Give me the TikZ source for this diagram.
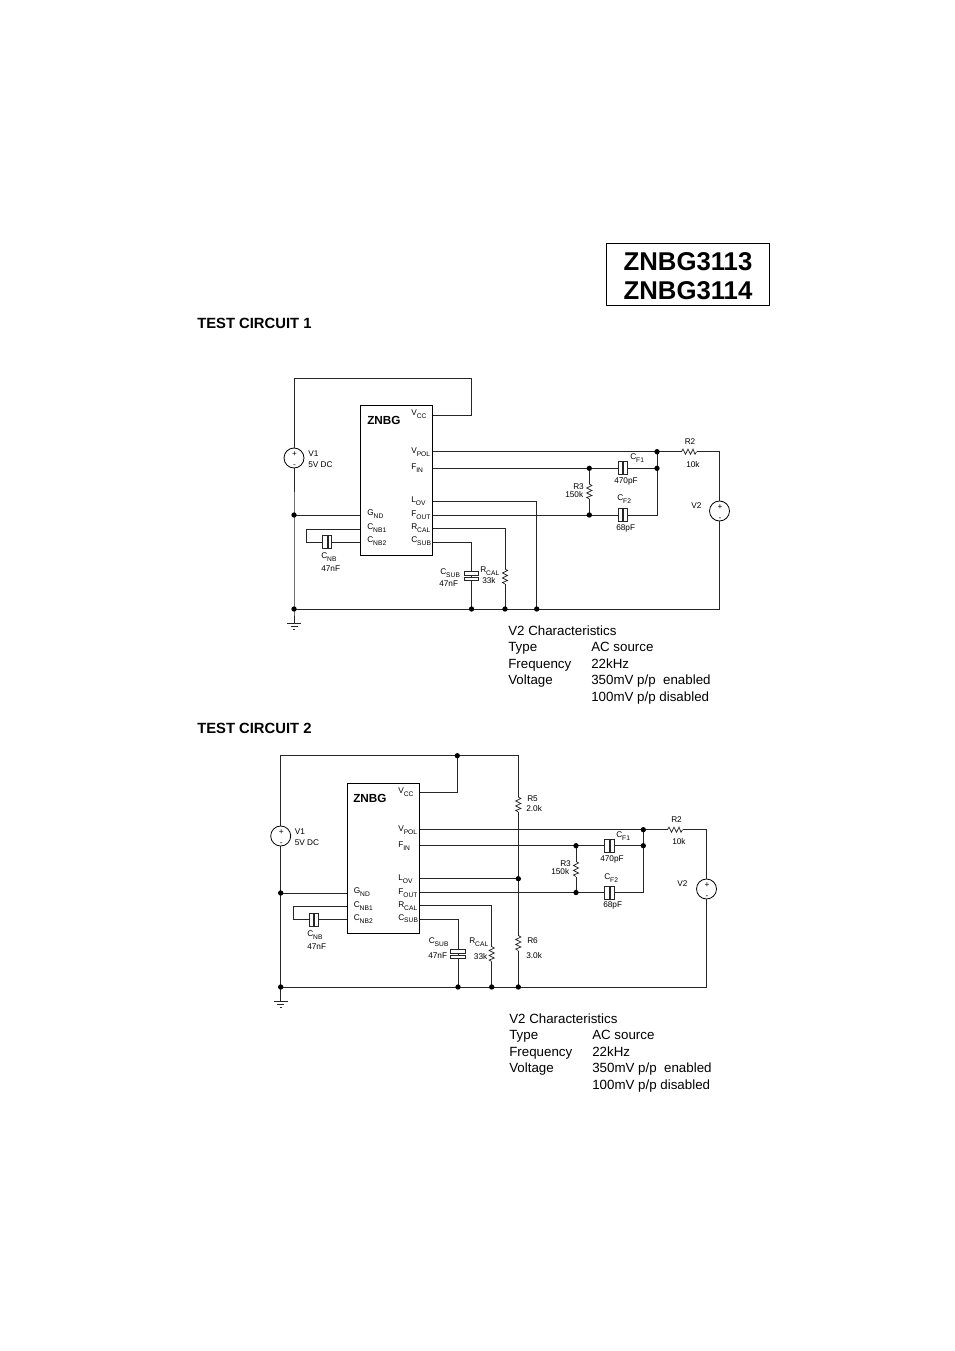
\documentclass[tikz,border=0pt]{standalone}
\usepackage{fontspec}
\setmainfont{Liberation Sans}
\newcounter{labc}
\newcommand{\sbs}[1]{\raisebox{-1.7pt}{\fontsize{5}{5}\selectfont #1}}
\tikzset{
  wire/.style={line width=0.65pt,draw=black!85,line join=miter},
  lab/.style={inner sep=0pt,anchor=base west,font=\fontsize{6.2}{7}\selectfont,yshift=-2.2pt},
  note/.style={inner sep=0pt,anchor=base west,font=\fontsize{10}{11}\selectfont,yshift=-3.4pt},
  head/.style={inner sep=0pt,anchor=base west,font=\bfseries\fontsize{11.1}{13}\selectfont,yshift=-3.9pt},
  chipbox/.style={draw=black,line width=0.75pt,fill=white,inner sep=0pt,minimum width=54pt,minimum height=112.5pt},
  srcbox/.style={circle,draw=black,line width=0.6pt,fill=white,inner sep=0pt,minimum size=15pt},
  plate/.style={draw=black!85,line width=0.6pt,fill=white},
  junction/.style={circle,fill=black,inner sep=0pt,minimum size=4pt},
  titlebox/.style={draw=black,line width=0.75pt,inner sep=0pt,minimum width=122.25pt,minimum height=46.5pt},
  titletext/.style={inner sep=0pt,align=center,font=\bfseries\fontsize{19.3}{22.2}\selectfont},
  pics/caph/.style={code={
    \draw[plate] (-5,-6.5) rectangle (-0.6,6.5);
    \draw[plate] (0.6,-6.5) rectangle (4.2,6.5);}},
  pics/capv/.style={code={
    \draw[plate] (-7.3,-5) rectangle (7.3,-0.7);
    \draw[plate] (-7.3,0.7) rectangle (7.3,4.2);}},
  pics/resv/.style={code={
    \fill[white] (-3,-7.5) rectangle (3,7.5);
    \draw[line width=0.55pt,draw=black!85] (0,-7.5)--(2.6,-6)--(-2.6,-3.5)--(2.6,-1)--(-2.6,1.5)--(2.6,4)--(-2.6,6)--(0,7.5);}},
  pics/resh/.style={code={
    \fill[white] (-7.5,-3) rectangle (7.5,3);
    \draw[line width=0.55pt,draw=black!85] (-7.5,0)--(-6,-2.6)--(-3.5,2.6)--(-1,-2.6)--(1.5,2.6)--(4,-2.6)--(6,2.6)--(7.5,0);}},
  pics/earth/.style={code={
    \draw[line width=0.6pt,draw=black!85] (-7,0)--(7,0) (-3.5,3)--(3.5,3) (-1,6.5)--(1,6.5);}},
}
\newcommand{\lab}[3]{\stepcounter{labc}\node[lab] (l\thelabc) at (#1,#2) {#3};}
\newcommand{\note}[3]{\stepcounter{labc}\node[note] (l\thelabc) at (#1,#2) {#3};}
\newcommand{\jn}[1]{\node[junction] (j-#1) at (#1) {};}
\begin{document}
\begin{tikzpicture}[x=0.75pt,y=-0.75pt]
\useasboundingbox (0,0) rectangle (954,1351);
\fill[white] (0,0) rectangle (954,1351);

% Title
\node[titlebox] (title) at (688,274.5) {};
\node[titletext] (titlet) at (688,276) {ZNBG3113\\ZNBG3114};
\node[head] (h1) at (197,323.5) {TEST CIRCUIT 1};
\node[head] (h2) at (197,728) {TEST CIRCUIT 2};

%%%%%%%%%%%%%%% CIRCUIT 1
\node[chipbox] (A) at (396.3,480.5) {};
\coordinate (a1) at (294,378.5);
\coordinate (a2) at (471.5,378.5);
\coordinate (a3) at (471.5,415);
\coordinate (avcc) at (432.3,415);
\coordinate (agt) at (294,515);
\coordinate (agb) at (294,609);
\coordinate (agnd) at (360.3,515);
\coordinate (an1) at (360.3,529);
\coordinate (an2) at (360.3,542);
\coordinate (al1) at (306.7,529);
\coordinate (al2) at (306.7,542);
\coordinate (apol) at (432.3,451.7);
\coordinate (ajt) at (657,451.7);
\coordinate (ar2e) at (719.5,451.7);
\coordinate (ar2m) at (689,451.7);
\coordinate (afin) at (432.3,468.3);
\coordinate (ar3t) at (589.3,468.3);
\coordinate (ajm) at (657,468.3);
\coordinate (aov) at (432.3,501.7);
\coordinate (aovc) at (536.7,501.7);
\coordinate (aovb) at (536.7,609);
\coordinate (afo) at (432.3,515);
\coordinate (ar3b) at (589.3,515);
\coordinate (ajb) at (657,515);
\coordinate (arc) at (432.3,528);
\coordinate (arcc) at (505,528);
\coordinate (arcb) at (505,609);
\coordinate (asb) at (432.3,542);
\coordinate (asbc) at (471.5,542);
\coordinate (asbb) at (471.5,609);
\coordinate (ae) at (719.5,609);
\coordinate (aearth) at (294,623.3);
\node[srcbox] (av1) at (294,458) {};
\node[srcbox] (av2) at (719.5,511) {};
\draw[wire] (av1) -- (a1) -- (a2) -- (a3) -- (avcc);
\draw[wire] (av1) -- (agt) -- (agb) -- (aearth);
\draw[wire] (agt) -- (agnd);
\draw[wire] (an1) -- (al1) -- (al2) -- (an2);
\draw[wire] (apol) -- (ajt) -- (ar2e) -- (av2);
\draw[wire] (afin) -- (ajm);
\draw[wire] (aov) -- (aovc) -- (aovb);
\draw[wire] (afo) -- (ajb) -- (ajt);
\draw[wire] (arc) -- (arcc) -- (arcb);
\draw[wire] (asb) -- (asbc) -- (asbb);
\draw[wire] (ar3t) -- (ar3b);
\draw[wire] (agb) -- (ae) -- (av2);
\node[chipbox,fill=none] (A2) at (A) {};
\pic at (327.5,542) {caph};
\pic at (623,468.3) {caph};
\pic at (623,515) {caph};
\pic at (471.5,576.5) {capv};
\pic at (505,576.5) {resv};
\pic at (589.3,491.5) {resv};
\pic at (ar2m) {resh};
\pic at (aearth) {earth};
\foreach \c in {agt,agb,asbb,arcb,aovb,ajt,ajm,ar3t,ar3b}{\jn{\c}}
\node[inner sep=0pt,anchor=base west,font=\bfseries\fontsize{8.8}{10}\selectfont,yshift=-2.9pt] (azn) at (367,420.5) {ZNBG};
\lab{411}{413}{V\sbs{CC}}
\lab{411}{451}{V\sbs{POL}}
\lab{411}{467}{F\sbs{IN}}
\lab{411}{500}{L\sbs{OV}}
\lab{411}{514}{F\sbs{OUT}}
\lab{411}{527}{R\sbs{CAL}}
\lab{411}{540}{C\sbs{SUB}}
\lab{367}{513}{G\sbs{ND}}
\lab{367}{527}{C\sbs{NB1}}
\lab{367}{540}{C\sbs{NB2}}
\lab{308}{454}{V1}
\lab{308}{464.7}{5V DC}
\lab{321}{556}{C\sbs{NB}}
\lab{321}{568.5}{47nF}
\lab{440}{572}{C\sbs{SUB}}
\lab{439}{584}{47nF}
\lab{480}{570}{R\sbs{CAL}}
\lab{482}{581}{33k}
\lab{573}{487}{R3}
\lab{565}{494.5}{150k}
\lab{630}{457}{C\sbs{F1}}
\lab{614}{481}{470pF}
\lab{617}{498}{C\sbs{F2}}
\lab{616}{528}{68pF}
\lab{684.5}{442}{R2}
\lab{686}{465}{10k}
\lab{691}{506}{V2}
\lab{291.8}{453.5}{+}
\lab{292.8}{465}{-}
\lab{717.3}{506.5}{+}
\lab{718.3}{518}{-}

\note{508}{630.5}{V2 Characteristics}
\note{508}{647}{Type}\note{591}{647}{AC source}
\note{508}{663.5}{Frequency}\note{591}{663.5}{22kHz}
\note{508}{680}{Voltage}\note{591}{680}{350mV p/p\ \ enabled}
\note{591}{696.5}{100mV p/p disabled}

%%%%%%%%%%%%%%% CIRCUIT 2
\node[chipbox] (B) at (383.3,858.3) {};
\coordinate (b1) at (280.7,755.7);
\coordinate (bjv) at (457.3,755.7);
\coordinate (bjvb) at (457.3,792.7);
\coordinate (bvcc) at (419.3,792.7);
\coordinate (b2) at (518.3,755.7);
\coordinate (bdiv) at (518.3,878.7);
\coordinate (bdb) at (518.3,987);
\coordinate (bgt) at (280.7,893);
\coordinate (bgb) at (280.7,987);
\coordinate (bgnd) at (347.3,893);
\coordinate (bn1) at (347.3,906);
\coordinate (bn2) at (347.3,919.5);
\coordinate (bl1) at (293.5,906);
\coordinate (bl2) at (293.5,919.5);
\coordinate (bpol) at (419.3,829.7);
\coordinate (bjt) at (643.3,829.7);
\coordinate (br2e) at (706.5,829.7);
\coordinate (br2m) at (675,829.7);
\coordinate (bfin) at (419.3,845.7);
\coordinate (br3t) at (576,845.7);
\coordinate (bjm) at (643.3,845.7);
\coordinate (bov) at (419.3,878.7);
\coordinate (bfo) at (419.3,892.5);
\coordinate (br3b) at (576,892.5);
\coordinate (bjb) at (643.3,892.5);
\coordinate (brc) at (419.3,905.3);
\coordinate (brcc) at (491.7,905.3);
\coordinate (brcb) at (491.7,987);
\coordinate (bsb) at (419.3,919);
\coordinate (bsbc) at (458,919);
\coordinate (bsbb) at (458,987);
\coordinate (be) at (706.5,987);
\coordinate (bearth) at (280.7,1001.3);
\node[srcbox] (bv1) at (280.7,836) {};
\node[srcbox] (bv2) at (706.5,889) {};
\draw[wire] (bv1) -- (b1) -- (bjv) -- (b2) -- (bdiv) -- (bdb);
\draw[wire] (bjv) -- (bjvb) -- (bvcc);
\draw[wire] (bv1) -- (bgt) -- (bgb) -- (bearth);
\draw[wire] (bgt) -- (bgnd);
\draw[wire] (bn1) -- (bl1) -- (bl2) -- (bn2);
\draw[wire] (bpol) -- (bjt) -- (br2e) -- (bv2);
\draw[wire] (bfin) -- (bjm);
\draw[wire] (bov) -- (bdiv);
\draw[wire] (bfo) -- (bjb) -- (bjt);
\draw[wire] (brc) -- (brcc) -- (brcb);
\draw[wire] (bsb) -- (bsbc) -- (bsbb);
\draw[wire] (br3t) -- (br3b);
\draw[wire] (bgb) -- (be) -- (bv2);
\node[chipbox,fill=none] (B2) at (B) {};
\pic at (314,919.5) {caph};
\pic at (609.7,845.7) {caph};
\pic at (609.7,892.5) {caph};
\pic at (458,954.5) {capv};
\pic at (491.7,954) {resv};
\pic at (518.3,804.5) {resv};
\pic at (518.3,943) {resv};
\pic at (576,869) {resv};
\pic at (br2m) {resh};
\pic at (bearth) {earth};
\foreach \c in {bjv,bgt,bgb,bsbb,brcb,bdb,bdiv,bjt,bjm,br3t,br3b}{\jn{\c}}
\node[inner sep=0pt,anchor=base west,font=\bfseries\fontsize{8.8}{10}\selectfont,yshift=-2.9pt] (bzn) at (353,798.5) {ZNBG};
\lab{398}{791}{V\sbs{CC}}
\lab{398}{829}{V\sbs{POL}}
\lab{398}{845}{F\sbs{IN}}
\lab{398}{878}{L\sbs{OV}}
\lab{398}{892}{F\sbs{OUT}}
\lab{398}{905}{R\sbs{CAL}}
\lab{398}{917.5}{C\sbs{SUB}}
\lab{353.5}{891}{G\sbs{ND}}
\lab{353.5}{905}{C\sbs{NB1}}
\lab{353.5}{918}{C\sbs{NB2}}
\lab{294.5}{832}{V1}
\lab{294.5}{842.7}{5V DC}
\lab{307}{934}{C\sbs{NB}}
\lab{307}{947}{47nF}
\lab{428.5}{941}{C\sbs{SUB}}
\lab{428}{955.7}{47nF}
\lab{469}{941}{R\sbs{CAL}}
\lab{473.7}{957}{33k}
\lab{527}{799}{R5}
\lab{526}{809}{2.0k}
\lab{527}{941}{R6}
\lab{526}{956}{3.0k}
\lab{560}{864}{R3}
\lab{551}{872}{150k}
\lab{616}{835}{C\sbs{F1}}
\lab{600}{859}{470pF}
\lab{604}{877}{C\sbs{F2}}
\lab{603}{905}{68pF}
\lab{671}{820}{R2}
\lab{672}{842}{10k}
\lab{677}{884}{V2}
\lab{278.5}{831.5}{+}
\lab{279.5}{843}{-}
\lab{704.3}{884.5}{+}
\lab{705.3}{896}{-}

\note{509}{1018.5}{V2 Characteristics}
\note{509}{1035}{Type}\note{592}{1035}{AC source}
\note{509}{1051.5}{Frequency}\note{592}{1051.5}{22kHz}
\note{509}{1067.5}{Voltage}\note{592}{1067.5}{350mV p/p\ \ enabled}
\note{592}{1084.5}{100mV p/p disabled}
\end{tikzpicture}
\end{document}
